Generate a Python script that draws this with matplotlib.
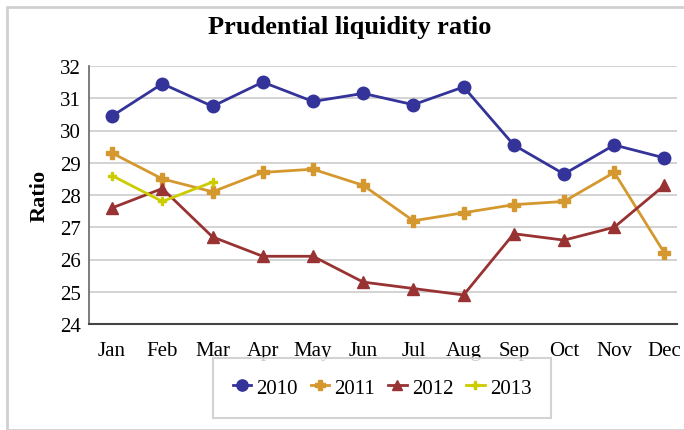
import matplotlib
matplotlib.use("Agg")
from matplotlib import pyplot as plt
from matplotlib.patches import Rectangle

months = ["Jan", "Feb", "Mar", "Apr", "May", "Jun", "Jul", "Aug", "Sep", "Oct", "Nov", "Dec"]
ratio_2010 = [30.45, 31.45, 30.75, 31.5, 30.9, 31.15, 30.8, 31.35, 29.55, 28.65, 29.55, 29.15]
ratio_2011 = [29.3, 28.5, 28.1, 28.7, 28.8, 28.3, 27.2, 27.45, 27.7, 27.8, 28.7, 26.2]
ratio_2012 = [27.6, 28.2, 26.7, 26.1, 26.1, 25.3, 25.1, 24.9, 26.8, 26.6, 27.0, 28.3]
ratio_2013 = [28.6, 27.8, 28.4]

plt.rcParams["font.family"] = ["Liberation Serif", "DejaVu Serif"]

fig = plt.figure(figsize=(6.84, 4.31), dpi=100)
ax = fig.add_axes([89 / 684, 1 - 325 / 431, (677 - 89) / 684, (325 - 67) / 431])

# outer frame of the chart area
fig.patches.append(Rectangle((7 / 684, 0.0), 1.2, 1 - 8 / 431, transform=fig.transFigure,
                             fill=False, edgecolor="#d0d0d0", linewidth=2))

x = list(range(len(months)))
ax.plot(x, ratio_2010, color="#333399", marker="o", markersize=9, linewidth=2, label="2010")
ax.plot(x, ratio_2011, color="#D4982F", marker="P", markersize=8, linewidth=2, label="2011")
ax.plot(x, ratio_2012, color="#993333", marker="^", markersize=8, linewidth=2, label="2012")
ax.plot(x[:3], ratio_2013, color="#CCCC00", marker="P", markersize=6, linewidth=2, label="2013")

ax.set_ylim(24, 32)
ax.set_xlim(-0.46, 11.25)
ax.set_xticks(x)
ax.set_xticklabels(months, fontsize=15)
ax.set_yticks(range(24, 33))
ax.tick_params(axis="y", labelsize=15, length=0, pad=6)
ax.tick_params(axis="x", length=0, pad=12)
ax.grid(axis="y", color="#cccccc", linewidth=1.2)
ax.set_axisbelow(True)
for side in ["top", "right"]:
    ax.spines[side].set_visible(False)
ax.spines["left"].set_color("#666666")
ax.spines["bottom"].set_color("#444444")
ax.spines["left"].set_linewidth(1.2)
ax.spines["bottom"].set_linewidth(1.5)

ax.set_ylabel("Ratio", fontsize=16, fontweight="bold", labelpad=7)
fig.text(350 / 684, 1 - 28 / 431, "Prudential liquidity ratio", fontsize=19, fontweight="bold",
         ha="center", va="center")

leg = fig.legend(loc="center", bbox_to_anchor=(382 / 684, 1 - 389 / 431), ncol=4, fontsize=15,
                 frameon=True, fancybox=False, handlelength=0.9, handletextpad=0.25,
                 columnspacing=0.6, borderpad=0.95, borderaxespad=0, markerscale=0.9)
leg.get_frame().set_edgecolor("#c8c8c8")
leg.get_frame().set_linewidth(1.5)

fig.savefig("out.png", dpi=100)
